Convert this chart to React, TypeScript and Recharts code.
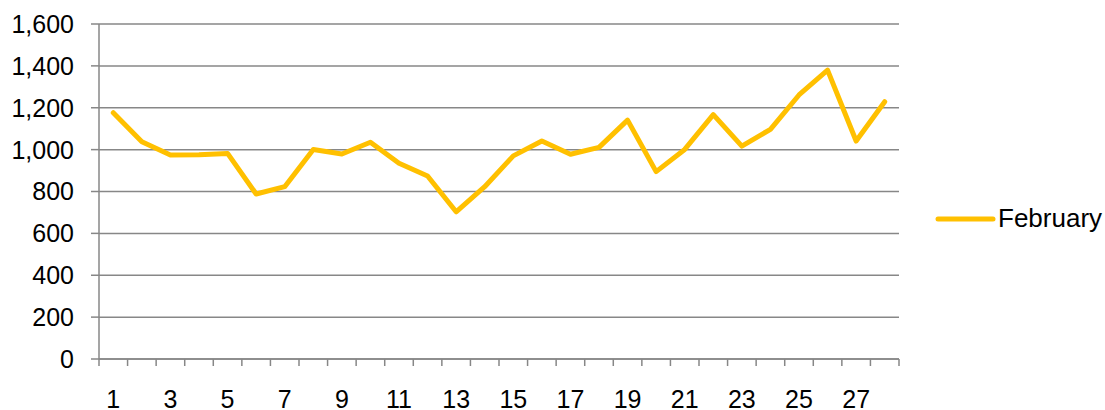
import React from "react";
import { LineChart, Line, XAxis, YAxis, CartesianGrid, Legend } from "recharts";

const days = [1, 2, 3, 4, 5, 6, 7, 8, 9, 10, 11, 12, 13, 14, 15, 16, 17, 18, 19, 20, 21, 22, 23, 24, 25, 26, 27, 28];
const february = [1176, 1038, 974, 975, 982, 788, 823, 1001, 979, 1035, 935, 874, 703, 823, 970, 1041, 978, 1011, 1141, 895, 1001, 1167, 1017, 1097, 1261, 1380, 1041, 1229];
const yTicks = [0, 200, 400, 600, 800, 1000, 1200, 1400, 1600];
const xLabelTicks = [1, 3, 5, 7, 9, 11, 13, 15, 17, 19, 21, 23, 25, 27];
const xBoundaryTicks = [0.5, 1.5, 2.5, 3.5, 4.5, 5.5, 6.5, 7.5, 8.5, 9.5, 10.5, 11.5, 12.5, 13.5, 14.5, 15.5, 16.5, 17.5, 18.5, 19.5, 20.5, 21.5, 22.5, 23.5, 24.5, 25.5, 26.5, 27.5, 28.5];
const seriesName = "February";

const data = days.map((d, i) => ({ day: d, value: february[i] }));
const allXTicks = [...xBoundaryTicks, ...xLabelTicks].sort((a, b) => a - b);

const FONT = '"Liberation Sans", Arial, sans-serif';
const GRID = "#878787";
const GOLD = "#FFC000";

const fmt = (v: number) => v.toLocaleString("en-US");

const XTick = (props: any) => {
  const { x, y, payload } = props;
  const v = payload.value as number;
  if (xBoundaryTicks.includes(v)) {
    return <line x1={x} y1={y} x2={x} y2={y + 7} stroke={GRID} strokeWidth={1.5} />;
  }
  return (
    <text x={x} y={y + 31} dy="0.71em" textAnchor="middle" fill="#000" fontSize={25} fontFamily={FONT}>
      {v}
    </text>
  );
};

const LegendContent = () => (
  <div style={{ display: "flex", alignItems: "center", fontFamily: FONT, fontSize: 26, color: "#000" }}>
    <svg width={63} height={10} style={{ display: "block" }}>
      <line x1={3} y1={5} x2={58} y2={5} stroke={GOLD} strokeWidth={5} strokeLinecap="round" />
    </svg>
    <span>{seriesName}</span>
  </div>
);

export default function App() {
  return (
    <div style={{ position: "absolute", left: 0, top: 0, width: 1105, height: 410, background: "#fff" }}>
      <LineChart
        width={1105}
        height={410}
        data={data}
        margin={{ top: 24, right: 206, left: 0, bottom: 0 }}
      >
        <CartesianGrid horizontal={true} vertical={false} stroke={GRID} strokeWidth={1.5} />
        <XAxis
          dataKey="day"
          type="number"
          domain={[0.5, 28.5]}
          ticks={allXTicks}
          interval={0}
          height={51}
          tickSize={0}
          tickMargin={0}
          tick={<XTick />}
          tickLine={false}
          axisLine={{ stroke: GRID, strokeWidth: 1.5 }}
        />
        <YAxis
          type="number"
          domain={[0, 1600]}
          ticks={yTicks}
          interval={0}
          width={99}
          tickSize={8}
          tickMargin={17}
          tickFormatter={fmt}
          tickLine={{ stroke: GRID, strokeWidth: 1.5 }}
          axisLine={{ stroke: GRID, strokeWidth: 1.5 }}
          tick={{ fill: "#000", fontSize: 25, fontFamily: FONT }}
        />
        <Legend
          layout="vertical"
          align="center"
          verticalAlign="middle"
          content={<LegendContent />}
          wrapperStyle={{ left: 935, top: 203, width: 170 }}
        />
        <Line
          type="linear"
          dataKey="value"
          name={seriesName}
          stroke={GOLD}
          strokeWidth={5}
          strokeLinejoin="round"
          strokeLinecap="round"
          dot={false}
          activeDot={false}
          isAnimationActive={false}
        />
      </LineChart>
    </div>
  );
}
